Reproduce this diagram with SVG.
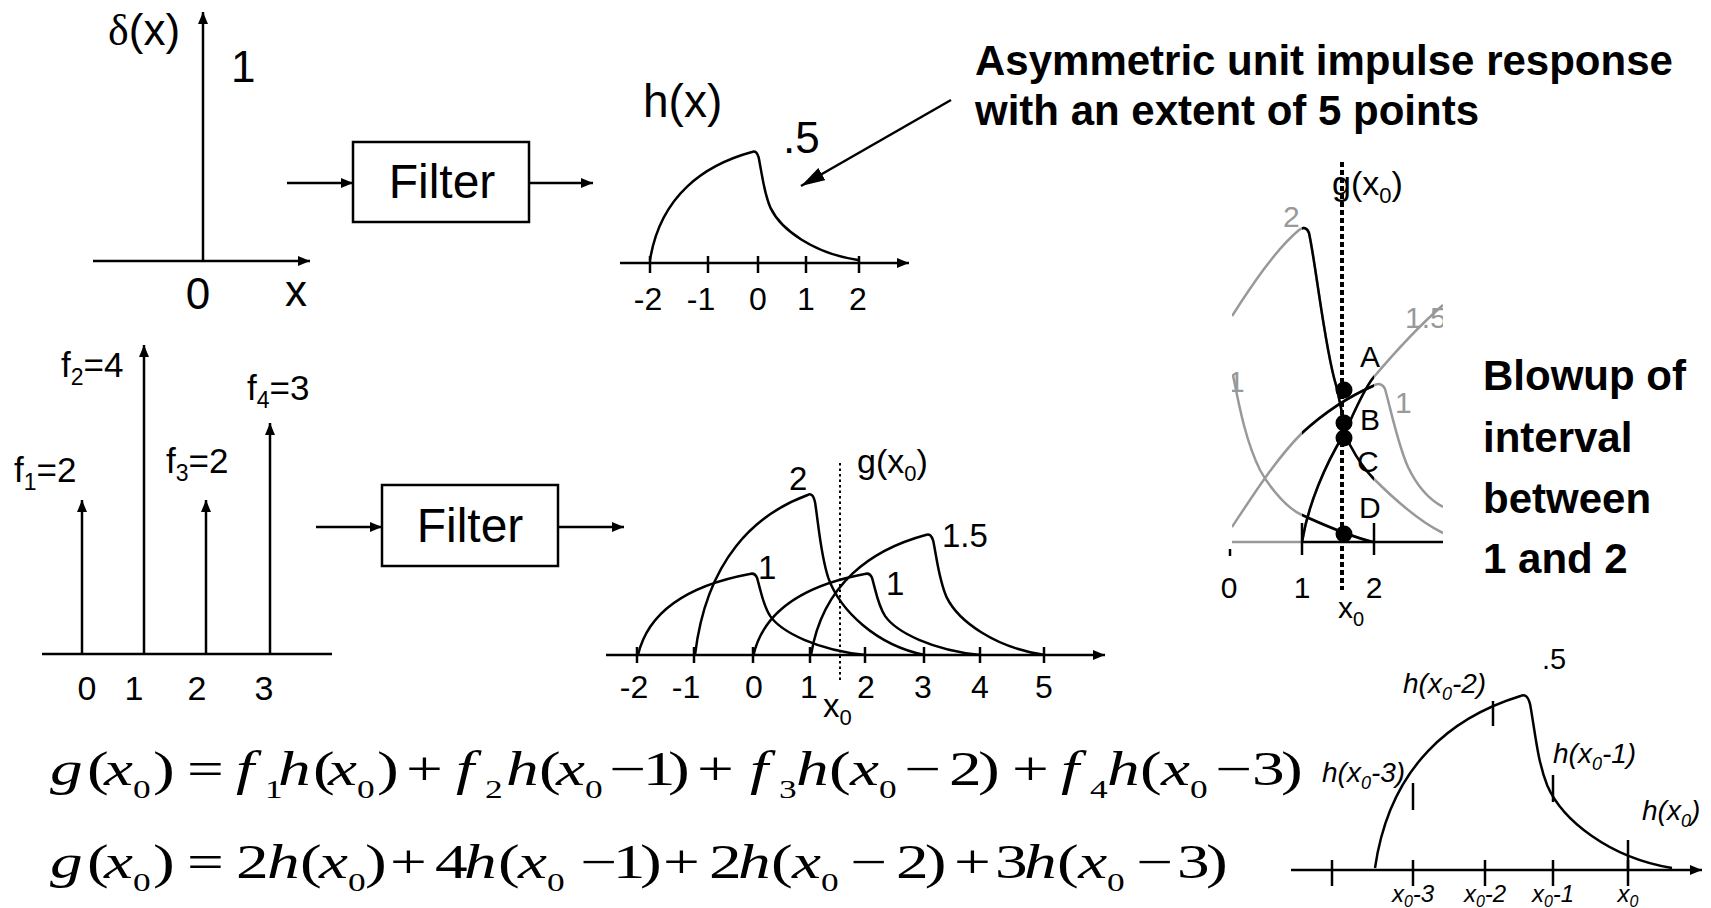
<svg xmlns="http://www.w3.org/2000/svg" width="1711" height="908" viewBox="0 0 1711 908">
<style>
.t{font-family:"Liberation Sans",Arial,sans-serif;fill:#000}
.b{font-family:"Liberation Sans",Arial,sans-serif;font-weight:bold;fill:#000}
.it{font-style:italic}
.g{fill:#999}
.ln{stroke:#000;stroke-width:2.5;fill:none}
.gl{stroke:#999;stroke-width:2.5;fill:none}
.eq{font-family:"Liberation Serif","Times New Roman",serif;font-size:48px;fill:#000}
.mi{font-style:italic}
.es{font-size:26px}
</style>
<defs>
<marker id="ah" markerWidth="12" markerHeight="10" refX="12" refY="5" orient="auto" markerUnits="userSpaceOnUse"><path d="M0,0 L12,5 L0,10 z" fill="#000"/></marker>
<marker id="ahb" markerWidth="24" markerHeight="14" refX="24" refY="7" orient="auto" markerUnits="userSpaceOnUse"><path d="M0,0 L24,7 L0,14 z" fill="#000"/></marker>
<path id="hc" d="M-200,0 C-180,-60 -95,-88 -4,-100 Q5,-102 9,-95 C16,-78 19,-62 32,-48 C52,-28 115,-6 200,0" fill="none" stroke="#000" stroke-width="2.5" vector-effect="non-scaling-stroke"/>
<clipPath id="bclip"><rect x="1232" y="150" width="211" height="410"/></clipPath>
<clipPath id="bblack"><rect x="1302" y="150" width="72" height="410"/></clipPath>
</defs>

<g id="delta-plot">
<line class="ln" x1="203" y1="261" x2="203" y2="12" marker-end="url(#ah)"/>
<line class="ln" x1="93" y1="261" x2="310" y2="261" marker-end="url(#ah)"/>
<text class="t" x="108" y="45" font-size="44"><tspan font-family="Liberation Serif,serif">δ</tspan>(x)</text>
<text class="t" x="231" y="82" font-size="44">1</text>
<text class="t" x="198" y="309" font-size="44" text-anchor="middle">0</text>
<text class="t" x="285" y="306" font-size="44">x</text>
</g>

<g id="filter1">
<rect x="353" y="142" width="176" height="80" fill="#fff" stroke="#000" stroke-width="2.5"/>
<text class="t" x="442" y="198" font-size="48" text-anchor="middle">Filter</text>
</g>

<g id="h-plot">
<line class="ln" x1="620" y1="263" x2="909" y2="263" marker-end="url(#ah)"/>
<g class="ln">
<line x1="650" y1="256" x2="650" y2="273"/><line x1="708" y1="256" x2="708" y2="273"/><line x1="758" y1="256" x2="758" y2="273"/><line x1="806" y1="256" x2="806" y2="273"/><line x1="859" y1="256" x2="859" y2="273"/>
</g>
<use href="#hc" transform="translate(754,260) scale(0.52,1.08)"/>
<text class="t" x="643" y="117" font-size="46">h(x)</text>
<text class="t" x="783" y="153" font-size="44">.5</text>
<g class="t" font-size="32" text-anchor="middle">
<text x="648" y="310">-2</text><text x="701" y="310">-1</text><text x="758" y="310">0</text><text x="806" y="310">1</text><text x="858" y="310">2</text>
</g>
</g>

<g id="caption1">
<text class="b" x="975" y="75" font-size="42">Asymmetric unit impulse response</text>
<text class="b" x="975" y="125" font-size="42">with an extent of 5 points</text>
</g>

<g id="impulses">
<line class="ln" x1="42" y1="654" x2="332" y2="654"/>
<line class="ln" x1="82" y1="654" x2="82" y2="500" marker-end="url(#ah)"/>
<line class="ln" x1="144" y1="654" x2="144" y2="345" marker-end="url(#ah)"/>
<line class="ln" x1="206" y1="654" x2="206" y2="500" marker-end="url(#ah)"/>
<line class="ln" x1="270" y1="654" x2="270" y2="423" marker-end="url(#ah)"/>
<text class="t" x="14" y="482" font-size="35">f<tspan font-size="23" dy="8">1</tspan><tspan dy="-8">=2</tspan></text>
<text class="t" x="61" y="377" font-size="35">f<tspan font-size="23" dy="8">2</tspan><tspan dy="-8">=4</tspan></text>
<text class="t" x="166" y="473" font-size="35">f<tspan font-size="23" dy="8">3</tspan><tspan dy="-8">=2</tspan></text>
<text class="t" x="247" y="400" font-size="35">f<tspan font-size="23" dy="8">4</tspan><tspan dy="-8">=3</tspan></text>
<g class="t" font-size="34" text-anchor="middle">
<text x="87" y="700">0</text><text x="134" y="700">1</text><text x="197" y="700">2</text><text x="264" y="700">3</text>
</g>
</g>

<g id="filter2">
<rect x="382" y="485" width="176" height="81" fill="#fff" stroke="#000" stroke-width="2.5"/>
<text class="t" x="470" y="542" font-size="48" text-anchor="middle">Filter</text>
</g>

<g id="sum-plot">
<line class="ln" x1="606" y1="655" x2="1105" y2="655" marker-end="url(#ah)"/>
<g class="ln">
<line x1="637" y1="647" x2="637" y2="663"/><line x1="694" y1="647" x2="694" y2="663"/><line x1="753" y1="647" x2="753" y2="663"/><line x1="810" y1="647" x2="810" y2="663"/><line x1="865" y1="647" x2="865" y2="663"/><line x1="924" y1="647" x2="924" y2="663"/><line x1="980" y1="647" x2="980" y2="663"/><line x1="1044" y1="647" x2="1044" y2="663"/>
</g>
<use href="#hc" transform="translate(752,655) scale(0.57,0.81)"/>
<use href="#hc" transform="translate(810,655) scale(0.575,1.6)"/>
<use href="#hc" transform="translate(867,655) scale(0.5675,0.81)"/>
<use href="#hc" transform="translate(928,655) scale(0.585,1.2)"/>
<line x1="840" y1="463" x2="840" y2="680" stroke="#000" stroke-width="2" stroke-dasharray="2.5 3"/>
<text class="t" x="857" y="473" font-size="34">g(x<tspan font-size="22" dy="8">0</tspan><tspan dy="-8">)</tspan></text>
<text class="t" x="789" y="490" font-size="33">2</text>
<text class="t" x="758" y="579" font-size="33">1</text>
<text class="t" x="886" y="595" font-size="33">1</text>
<text class="t" x="942" y="547" font-size="33">1.5</text>
<g class="t" font-size="32" text-anchor="middle">
<text x="634" y="698">-2</text><text x="686" y="698">-1</text><text x="754" y="698">0</text><text x="809" y="698">1</text><text x="866" y="698">2</text><text x="923" y="698">3</text><text x="980" y="698">4</text><text x="1044" y="698">5</text>
</g>
<text class="t" x="823" y="717" font-size="33">x<tspan font-size="22" dy="8">0</tspan></text>
</g>

<g id="blowup">
<g clip-path="url(#bclip)">
<path class="gl" d="M1232,316 C1250,288 1275,250 1299,230 Q1306,225 1309,233 C1316,265 1325,350 1336,385 C1341,405 1344,428 1350,445 C1358,460 1365,470 1373,478 C1395,500 1420,522 1443,533"/>
<path class="gl" d="M1232,527 C1250,500 1275,460 1302,433 C1325,412 1350,396 1373,386 Q1381,381 1385,389 C1391,410 1398,445 1408,467 C1418,488 1430,500 1443,507"/>
<path class="gl" d="M1302,542 C1308,505 1325,465 1344,434 C1352,418 1362,392 1373,378 C1395,352 1420,325 1443,305"/>
<path class="gl" d="M1233,375 C1238,400 1245,440 1260,470 C1272,492 1290,510 1302,515 C1320,523 1345,535 1373,542"/>
<text class="t g" x="1405" y="328" font-size="30">1.5</text>
<text class="t g" x="1228" y="392" font-size="30">1</text>
</g>
<g clip-path="url(#bblack)">
<path class="ln" d="M1232,316 C1250,288 1275,250 1299,230 Q1306,225 1309,233 C1316,265 1325,350 1336,385 C1341,405 1344,428 1350,445 C1358,460 1365,470 1373,478 C1395,500 1420,522 1443,533"/>
<path class="ln" d="M1232,527 C1250,500 1275,460 1302,433 C1325,412 1350,396 1373,386 Q1381,381 1385,389 C1391,410 1398,445 1408,467 C1418,488 1430,500 1443,507"/>
<path class="ln" d="M1302,542 C1308,505 1325,465 1344,434 C1352,418 1362,392 1373,378 C1395,352 1420,325 1443,305"/>
<path class="ln" d="M1233,375 C1238,400 1245,440 1260,470 C1272,492 1290,510 1302,515 C1320,523 1345,535 1373,542"/>
</g>
<line class="gl" x1="1232" y1="542" x2="1302" y2="542"/>
<line class="ln" x1="1302" y1="542" x2="1443" y2="542"/>
<line class="ln" x1="1302" y1="523" x2="1302" y2="555"/>
<line class="ln" x1="1374" y1="523" x2="1374" y2="555"/>
<line class="ln" x1="1230" y1="549" x2="1230" y2="556"/>
<line x1="1342" y1="162" x2="1342" y2="590" stroke="#000" stroke-width="4" stroke-dasharray="5 3"/>
<g fill="#000">
<circle cx="1344" cy="390" r="8.5"/><circle cx="1344" cy="423" r="8.5"/><circle cx="1344" cy="438" r="8.5"/><circle cx="1344" cy="534" r="8.5"/>
</g>
<text class="t g" x="1283" y="227" font-size="30">2</text>
<text class="t g" x="1395" y="413" font-size="30">1</text>
<text class="t" x="1360" y="367" font-size="30">A</text>
<text class="t" x="1360" y="430" font-size="30">B</text>
<text class="t" x="1357" y="472" font-size="30">C</text>
<text class="t" x="1359" y="518" font-size="30">D</text>
<text class="t" x="1332" y="195" font-size="34">g(x<tspan font-size="22" dy="8">0</tspan><tspan dy="-8">)</tspan></text>
<g class="t" font-size="30" text-anchor="middle">
<text x="1229" y="598">0</text><text x="1302" y="598">1</text><text x="1374" y="598">2</text>
</g>
<text class="t" x="1338" y="618" font-size="30">x<tspan font-size="20" dy="8">0</tspan></text>
</g>

<g id="caption2">
<text class="b" x="1483" y="390" font-size="42">Blowup of</text>
<text class="b" x="1483" y="452" font-size="42">interval</text>
<text class="b" x="1483" y="513" font-size="42">between</text>
<text class="b" x="1483" y="573" font-size="42">1 and 2</text>
</g>

<g id="hx0-plot">
<line class="ln" x1="1291" y1="870" x2="1702" y2="870" marker-end="url(#ah)"/>
<g class="ln">
<line x1="1332" y1="860" x2="1332" y2="886"/><line x1="1413" y1="860" x2="1413" y2="886"/><line x1="1485" y1="860" x2="1485" y2="886"/><line x1="1553" y1="860" x2="1553" y2="886"/><line x1="1628" y1="860" x2="1628" y2="886"/>
<line x1="1413" y1="783" x2="1413" y2="810"/><line x1="1493" y1="701" x2="1493" y2="726"/><line x1="1553" y1="775" x2="1553" y2="802"/><line x1="1628" y1="840" x2="1628" y2="870"/>
</g>
<use href="#hc" transform="translate(1523.5,868) scale(0.7425,1.72)"/>
<text class="t" x="1542" y="669" font-size="29">.5</text>
<g class="t it" font-size="28">
<text x="1403" y="693">h(x<tspan font-size="18" dy="7">0</tspan><tspan dy="-7">-2)</tspan></text>
<text x="1322" y="782">h(x<tspan font-size="18" dy="7">0</tspan><tspan dy="-7">-3)</tspan></text>
<text x="1553" y="763">h(x<tspan font-size="18" dy="7">0</tspan><tspan dy="-7">-1)</tspan></text>
<text x="1642" y="820">h(x<tspan font-size="18" dy="7">0</tspan><tspan dy="-7">)</tspan></text>
</g>
<g class="t it" font-size="24" text-anchor="middle">
<text x="1413" y="902">x<tspan font-size="16" dy="5">0</tspan><tspan dy="-5">-3</tspan></text>
<text x="1485" y="902">x<tspan font-size="16" dy="5">0</tspan><tspan dy="-5">-2</tspan></text>
<text x="1553" y="902">x<tspan font-size="16" dy="5">0</tspan><tspan dy="-5">-1</tspan></text>
<text x="1628" y="902">x<tspan font-size="16" dy="5">0</tspan></text>
</g>
</g>

<g id="eq1" transform="translate(50,785) scale(1.36,1)">
<text class="eq"><tspan class="mi" x="0" y="0">g</tspan><tspan x="27.2" y="0">(</tspan><tspan class="mi" x="39.7" y="0">x</tspan><tspan class="es" x="61" y="13">0</tspan><tspan x="75.7" y="0">)</tspan><tspan x="100.8" y="0">=</tspan><tspan class="mi" x="136.8" y="0">f</tspan><tspan class="es" x="158.1" y="13">1</tspan><tspan class="mi" x="167.6" y="0">h</tspan><tspan x="193.4" y="0">(</tspan><tspan class="mi" x="204.4" y="0">x</tspan><tspan class="es" x="225.7" y="13">0</tspan><tspan x="240.4" y="0">)</tspan><tspan x="261.8" y="0">+</tspan><tspan class="mi" x="298.5" y="0">f</tspan><tspan class="es" x="319.9" y="13">2</tspan><tspan class="mi" x="335.3" y="0">h</tspan><tspan x="359.5" y="0">(</tspan><tspan class="mi" x="372.1" y="0">x</tspan><tspan class="es" x="393.4" y="13">0</tspan><tspan x="411" y="0">−</tspan><tspan x="435.9" y="0">1</tspan><tspan x="454.4" y="0">)</tspan><tspan x="475.7" y="0">+</tspan><tspan class="mi" x="514.8" y="0">f</tspan><tspan class="es" x="536.1" y="13">3</tspan><tspan class="mi" x="548.6" y="0">h</tspan><tspan x="572.8" y="0">(</tspan><tspan class="mi" x="588.2" y="0">x</tspan><tspan class="es" x="609.5" y="13">0</tspan><tspan x="628" y="0">−</tspan><tspan x="661" y="0">2</tspan><tspan x="682.4" y="0">)</tspan><tspan x="707.3" y="0">+</tspan><tspan class="mi" x="743.4" y="0">f</tspan><tspan class="es" x="764.7" y="13">4</tspan><tspan class="mi" x="777.3" y="0">h</tspan><tspan x="801.5" y="0">(</tspan><tspan class="mi" x="816.9" y="0">x</tspan><tspan class="es" x="838.2" y="13">0</tspan><tspan x="856.6" y="0">−</tspan><tspan x="883.9" y="0">3</tspan><tspan x="905.2" y="0">)</tspan></text>
</g>

<g id="eq2" transform="translate(50,878) scale(1.36,1)">
<text class="eq"><tspan class="mi" x="0" y="0">g</tspan><tspan x="27.2" y="0">(</tspan><tspan class="mi" x="39.7" y="0">x</tspan><tspan class="es" x="61" y="13">0</tspan><tspan x="75.7" y="0">)</tspan><tspan x="100.8" y="0">=</tspan><tspan x="136.8" y="0">2</tspan><tspan class="mi" x="159.6" y="0">h</tspan><tspan x="183.8" y="0">(</tspan><tspan class="mi" x="197.8" y="0">x</tspan><tspan class="es" x="219.1" y="13">0</tspan><tspan x="231.6" y="0">)</tspan><tspan x="250" y="0">+</tspan><tspan x="283.1" y="0">4</tspan><tspan class="mi" x="304.4" y="0">h</tspan><tspan x="329.5" y="0">(</tspan><tspan class="mi" x="344.2" y="0">x</tspan><tspan class="es" x="365.5" y="13">0</tspan><tspan x="389.7" y="0">−</tspan><tspan x="413.8" y="0">1</tspan><tspan x="433.8" y="0">)</tspan><tspan x="450.8" y="0">+</tspan><tspan x="484.6" y="0">2</tspan><tspan class="mi" x="505.9" y="0">h</tspan><tspan x="530.1" y="0">(</tspan><tspan class="mi" x="545.6" y="0">x</tspan><tspan class="es" x="566.9" y="13">0</tspan><tspan x="588.2" y="0">−</tspan><tspan x="622" y="0">2</tspan><tspan x="643.3" y="0">)</tspan><tspan x="664.7" y="0">+</tspan><tspan x="694.8" y="0">3</tspan><tspan class="mi" x="716.2" y="0">h</tspan><tspan x="740.5" y="0">(</tspan><tspan class="mi" x="756" y="0">x</tspan><tspan class="es" x="777.3" y="13">0</tspan><tspan x="798.6" y="0">−</tspan><tspan x="828.6" y="0">3</tspan><tspan x="850" y="0">)</tspan></text>
</g>

<g id="connectors">
<line class="ln" x1="287" y1="183" x2="353" y2="183" marker-end="url(#ah)"/>
<line class="ln" x1="529" y1="183" x2="593" y2="183" marker-end="url(#ah)"/>
<line class="ln" x1="316" y1="527" x2="382" y2="527" marker-end="url(#ah)"/>
<line class="ln" x1="558" y1="527" x2="624" y2="527" marker-end="url(#ah)"/>
<line class="ln" x1="951" y1="100" x2="801" y2="186" marker-end="url(#ahb)"/>
</g>
</svg>
